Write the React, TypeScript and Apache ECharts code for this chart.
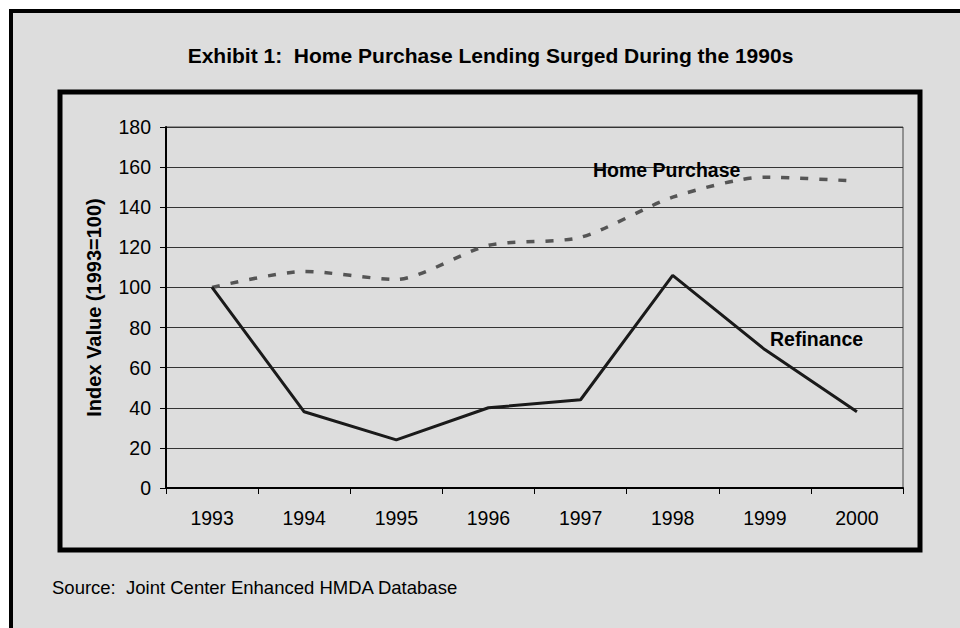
import React, { useEffect, useRef } from "react";
import * as echarts from "echarts";

const years = ["1993", "1994", "1995", "1996", "1997", "1998", "1999", "2000"];
const homePurchase = [100, 108, 104, 121, 125, 145, 155, 153];
const refinance = [100, 38, 24, 40, 44, 106, 69, 38];
const yTicks = { min: 0, max: 180, interval: 20 };

const FONT = "Arial, 'Liberation Sans', Helvetica, sans-serif";

export default function App() {
  const ref = useRef<HTMLDivElement>(null);
  useEffect(() => {
    if (!ref.current) return;
    const chart = echarts.init(ref.current, undefined, { renderer: "svg" });
    chart.setOption({
      animation: false,
      backgroundColor: "#ffffff",
      textStyle: { fontFamily: FONT },
      graphic: [
        {
          type: "rect",
          z: -10,
          shape: { x: 11, y: 11, width: 1000, height: 700 },
          style: { fill: "#dddddd", stroke: "#000000", lineWidth: 4 },
          silent: true,
        },
        {
          type: "rect",
          z: -9,
          shape: { x: 60, y: 92, width: 860, height: 458 },
          style: { fill: "none", stroke: "#000000", lineWidth: 5 },
          silent: true,
        },
        {
          type: "text",
          x: 490.5,
          y: 55,
          style: {
            text: "Exhibit 1:  Home Purchase Lending Surged During the 1990s",
            font: `bold 21px ${FONT}`,
            fill: "#000",
            align: "center",
            verticalAlign: "middle",
          },
        },
        {
          type: "text",
          x: 52,
          y: 587,
          style: {
            text: "Source:  Joint Center Enhanced HMDA Database",
            font: `18.5px ${FONT}`,
            fill: "#000",
            align: "left",
            verticalAlign: "middle",
          },
        },
        {
          type: "text",
          x: 593,
          y: 170,
          z: 10,
          style: {
            text: "Home Purchase",
            font: `bold 19.5px ${FONT}`,
            fill: "#000",
            align: "left",
            verticalAlign: "middle",
          },
        },
        {
          type: "text",
          x: 770,
          y: 339,
          z: 10,
          style: {
            text: "Refinance",
            font: `bold 19.5px ${FONT}`,
            fill: "#000",
            align: "left",
            verticalAlign: "middle",
          },
        },
      ],
      grid: {
        left: 166,
        top: 127,
        right: 57,
        bottom: 140,
        show: true,
        borderColor: "#444",
        borderWidth: 1,
        backgroundColor: "transparent",
      },
      xAxis: {
        type: "category",
        data: years,
        boundaryGap: true,
        axisLine: { lineStyle: { color: "#000", width: 2 } },
        axisTick: { show: true, length: 6, alignWithLabel: false, lineStyle: { color: "#000", width: 1 } },
        axisLabel: { color: "#000", fontSize: 19.5, margin: 20, fontFamily: FONT },
        splitLine: { show: false },
      },
      yAxis: {
        type: "value",
        min: yTicks.min,
        max: yTicks.max,
        interval: yTicks.interval,
        name: "Index Value (1993=100)",
        nameLocation: "middle",
        nameGap: 62,
        nameRotate: 90,
        nameTextStyle: { color: "#000", fontSize: 20, fontWeight: "bold", fontFamily: FONT },
        axisLine: { show: true, lineStyle: { color: "#000", width: 2 } },
        axisTick: { show: true, length: 6, lineStyle: { color: "#000", width: 1 } },
        axisLabel: { color: "#000", fontSize: 19.5, margin: 15, fontFamily: FONT },
        splitLine: { show: true, lineStyle: { color: "#333", width: 1 } },
      },
      series: [
        {
          name: "Home Purchase",
          type: "line",
          data: homePurchase,
          smooth: 0.25,
          showSymbol: false,
          lineStyle: { color: "#555555", width: 3.5, type: [8, 11] },
          z: 3,
        },
        {
          name: "Refinance",
          type: "line",
          data: refinance,
          smooth: false,
          showSymbol: false,
          lineStyle: { color: "#1a1a1a", width: 3 },
          z: 4,
        },
      ],
    });
    return () => chart.dispose();
  }, []);
  return (
    <div
      ref={ref}
      style={{ position: "absolute", left: 0, top: 0, width: 960, height: 628 }}
    />
  );
}
